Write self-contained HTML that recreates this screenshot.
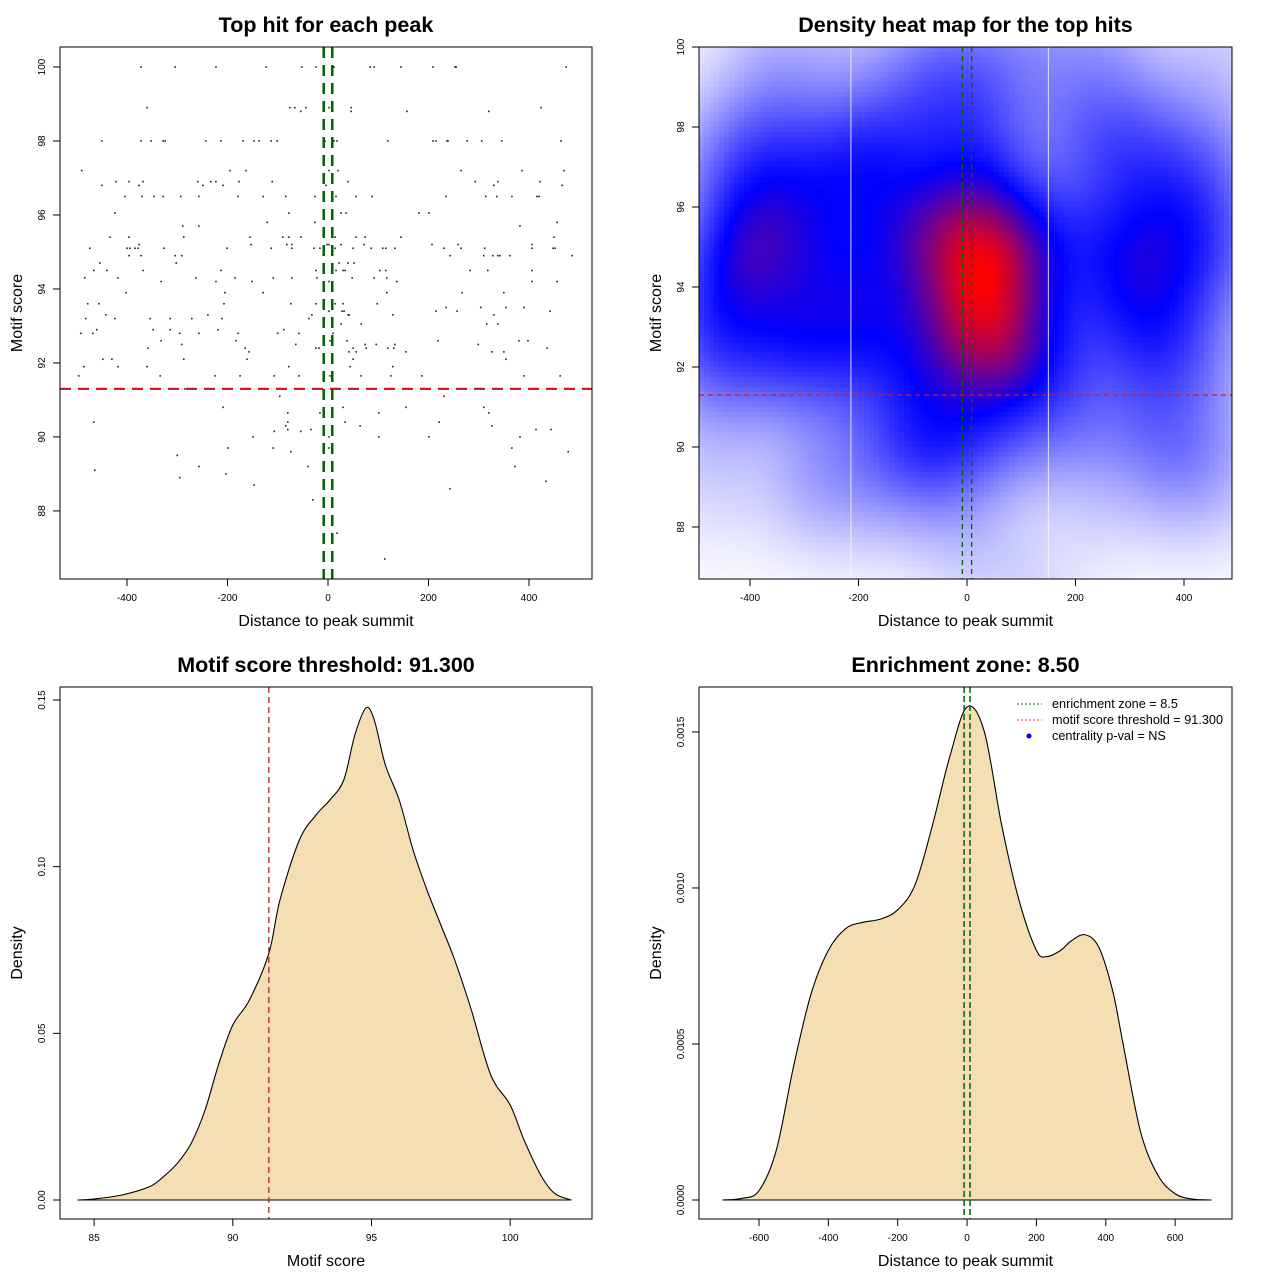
<!DOCTYPE html>
<html><head><meta charset="utf-8">
<style>
html,body{margin:0;padding:0;background:#fff;}
svg{display:block;font-family:"Liberation Sans",Arial,sans-serif;}
</style></head>
<body>
<svg id="chart" width="1280" height="1280" viewBox="0 0 1280 1280" xmlns="http://www.w3.org/2000/svg">
<rect x="0" y="0" width="1280" height="1280" fill="#fff"/>
</svg>
<script>
// ---------- DATA ----------
const scoreRows = [100,98.9,98.8,98.0,97.2,96.9,96.8,96.5,96.05,95.8,95.7,95.4,95.2,95.1,94.9,94.7,94.5,94.3,94.2,93.9,93.6,93.5,93.4,93.3,93.2,93.05,92.9,92.8,92.6,92.5,92.4,92.3,92.1,91.9,91.65,91.3,91.1,90.8,90.65,90.4,90.3,90.2,90.15,90.0,89.7,89.6,89.5,89.2,89.1,89.0,88.9,88.8,88.7,88.6,88.3,87.4,86.7];
const distRows = [
 [-372,-304,-223,-123,-52,-24,12,84,92,145,209,253,255,474],
 [-360,-76,-66,-44,2,46,424],
 [-54,46,157,320],
 [-450,-372,-352,-328,-324,-243,-213,-169,-147,-137,-113,-101,-6,12,18,119,209,215,237,239,277,306,346,464],
 [-490,-195,-163,2,20,265,386,470],
 [-422,-396,-368,-259,-233,-223,-177,-111,40,293,338,422],
 [-450,-376,-249,-209,-4,330,466],
 [-404,-370,-346,-328,-293,-257,-179,-129,-84,-26,16,56,88,235,314,336,366,416,420],
 [-424,-78,26,36,181,201],
 [-121,-26,456],
 [-289,-257,382],
 [-434,-396,-287,-155,-90,-78,-54,14,56,74,145,450],
 [-376,-153,-82,-72,-2,2,26,72,207,259,406],
 [-474,-400,-394,-384,-378,-326,-201,-113,-72,-28,-16,14,50,86,109,115,133,231,265,312,406,448,452],
 [-396,-372,-304,-291,243,310,328,338,342,362,486],
 [-454,-302,22,40,52],
 [-466,-440,-368,-213,-24,16,30,34,103,115,283,318,406],
 [-484,-418,-263,-185,-109,-72,-22,48,92,117],
 [-332,-223,-151,2,137,406,456],
 [-402,-205,-129,117,267,350],
 [-478,-456,-207,-24,-74,14,30,98],
 [235,304,354,390],
 [2,28,32,215,257,442],
 [-442,-239,-32,40,129,42,330],
 [-354,-314,-271,-211,-38,-482,-424],
 [26,66,316,338],
 [-460,-348,-314,-219,-88],
 [-492,-468,-295,-257,-179,-100,-58,10],
 [-332,-183,380,398,4,38,219],
 [-291,-64,96,133,74,299],
 [-358,-165,-24,-18,50,76,119,131,436],
 [-157,42,350,56,155,326],
 [-448,-430,-287,-161,50,354],
 [-486,-418,-360,-78,129,44],
 [-496,-334,-225,-175,-107,-58,4,66,125,187,390,462],
 [-285,48,185,366],
 [-96,231],
 [-209,30,155,310],
 [-80,-16,101,320],
 [-466,-80,34,221],
 [-84,64,326],
 [-80,-34,414,444],
 [-107,-54],
 [-149,201,382,2,101],
 [-199,-109,2,366],
 [-74,478],
 [-300],
 [-257,-40,372],
 [-464],
 [-203],
 [-295],
 [434],
 [-147],
 [243],
 [-30],
 [18],
 [113]
];
const scoreThreshold = 91.3;
const enrichZone = 8.5;

const motifX = [84.4,85,86,87,87.5,88,88.5,89,89.5,90,90.6,91.3,91.7,92.4,93,93.5,94,94.4,94.8,95.1,95.5,96,96.5,97,97.5,98,98.6,99.3,100,100.5,101.1,101.6,102.2];
const motifDens = [0,0.0003,0.0015,0.004,0.007,0.011,0.017,0.027,0.041,0.0525,0.06,0.074,0.09,0.108,0.1155,0.12,0.126,0.1395,0.1476,0.144,0.1305,0.12,0.105,0.093,0.0825,0.072,0.057,0.0375,0.0285,0.018,0.0075,0.002,0];

const distX = [-705,-650,-600,-550,-500,-450,-400,-350,-300,-250,-200,-150,-100,-50,0,50,100,150,200,230,270,300,340,380,420,450,500,550,600,650,705];
const distDens = [0,0.000005,0.00003,0.00016,0.00043,0.00066,0.0008,0.00087,0.00089,0.0009,0.00093,0.00101,0.0012,0.00142,0.00158,0.0015,0.0012,0.00096,0.0008,0.00078,0.0008,0.00083,0.00085,0.00081,0.00067,0.0005,0.00022,0.00008,0.00002,0.000003,0];

const p1XTicks = [-400,-200,0,200,400];
const p1YTicks = [88,90,92,94,96,98,100];
const p2XTicks = [-400,-200,0,200,400];
const p2YTicks = [88,90,92,94,96,98,100];
const p3XTicks = [85,90,95,100];
const p3YTicks = ["0.00","0.05","0.10","0.15"];
const p4XTicks = [-600,-400,-200,0,200,400,600];
const p4YTicks = ["0.0000","0.0005","0.0010","0.0015"];

// ---------- HELPERS ----------
const NS = "http://www.w3.org/2000/svg";
const svg = document.getElementById('chart');
function mk(tag, attrs, parent){
  const e = document.createElementNS(NS, tag);
  for (const k in attrs) e.setAttribute(k, attrs[k]);
  (parent||svg).appendChild(e);
  return e;
}
function panel(L,T,R,B,x0,x1,y0,y1){
  return {L,T,R,B,
    x:v=>L+(v-x0)/(x1-x0)*(R-L),
    y:v=>B-(v-y0)/(y1-y0)*(B-T)};
}
function catmull(pts){
  let d = "M"+pts[0][0]+","+pts[0][1];
  for(let i=0;i<pts.length-1;i++){
    const p0=pts[i-1]||pts[i], p1=pts[i], p2=pts[i+1], p3=pts[i+2]||p2;
    const c1=[p1[0]+(p2[0]-p0[0])/6, p1[1]+(p2[1]-p0[1])/6];
    const c2=[p2[0]-(p3[0]-p1[0])/6, p2[1]-(p3[1]-p1[1])/6];
    d+=" C"+c1[0]+","+c1[1]+" "+c2[0]+","+c2[1]+" "+p2[0]+","+p2[1];
  }
  return d;
}
function axes(P, xt, yt, title, xlab, ylab, prefix){
  const g = mk('g',{});
  
  
  xt.forEach(v=>{
    const X=P.x(+v);
    const t=mk('line',{x1:X,x2:X,y1:P.B,y2:P.B+7,stroke:'#000','stroke-width':1},g);
    
    
    const l=mk('text',{x:X,y:P.B+22,'font-size':10,'text-anchor':'middle',fill:'#000'},g);
    l.textContent=v;
    
    
  });
  yt.forEach(v=>{
    const Y=P.y(+v);
    const t=mk('line',{x1:P.L-7,x2:P.L,y1:Y,y2:Y,stroke:'#000','stroke-width':1},g);
    
    
    const l=mk('text',{x:P.L-15,y:Y,'font-size':10,'text-anchor':'middle',fill:'#000',transform:'rotate(-90 '+(P.L-15)+' '+Y+')'},g);
    l.textContent=v;
    
    
  });
  const box=mk('rect',{x:P.L,y:P.T,width:P.R-P.L,height:P.B-P.T,fill:'none',stroke:'#000','stroke-width':1},g);
  
  
  const ti=mk('text',{x:(P.L+P.R)/2,y:P.T-15,'font-size':21.5,'font-weight':'bold','text-anchor':'middle'},g);
  ti.textContent=title;
  
  
  const xl=mk('text',{x:(P.L+P.R)/2,y:P.B+47,'font-size':16,'text-anchor':'middle'},g);
  xl.textContent=xlab;
  
  
  const yx=P.L-38, yy=(P.T+P.B)/2;
  const yl=mk('text',{x:yx,y:yy,'font-size':16,'text-anchor':'middle',transform:'rotate(-90 '+yx+' '+yy+')'},g);
  yl.textContent=ylab;
  
  
}

const ptX=[], ptY=[];
distRows.forEach((row,i)=>row.forEach(x=>{ptX.push(x);ptY.push(scoreRows[i]);}));

// ---------- PANEL 1 ----------
const P1 = panel(60,47,592,579,-533.3,525.4,86.16,100.54);
const g1 = mk('g',{});


ptX.forEach((x,i)=>{
  const c=mk('rect',{x:P1.x(x)-0.8,y:P1.y(ptY[i])-0.8,width:1.6,height:1.6,fill:'#222'},g1);
  
  
});
let e;
e=mk('line',{x1:P1.L,x2:P1.R,y1:P1.y(scoreThreshold),y2:P1.y(scoreThreshold),stroke:'#D7191C','stroke-width':2.2,'stroke-dasharray':'11,7'});


[-enrichZone,enrichZone].forEach(v=>{
  const l=mk('line',{x1:P1.x(v),x2:P1.x(v),y1:P1.T,y2:P1.B,stroke:'#006400','stroke-width':2.5,'stroke-dasharray':'11,7'});
  
  
});
axes(P1,p1XTicks,p1YTicks,'Top hit for each peak','Distance to peak summit','Motif score','p1');

// ---------- PANEL 2 (heat map) ----------
const P2 = panel(699,47,1232,579,-494,488.5,86.7,100);
const cell=5;
const hx=68, hy=1.1;
const nxC=Math.ceil((P2.R-P2.L)/cell), nyC=Math.ceil((P2.B-P2.T)/cell);
const dens=[]; let dmax=0;
const xr=(P2.R-P2.L), yr=(P2.B-P2.T);
for(let j=0;j<nyC;j++){for(let i=0;i<nxC;i++){
  const px=P2.L+(i+0.5)*cell, py=P2.T+(j+0.5)*cell;
  const xv=-494+(px-P2.L)/xr*(488.5+494);
  const yv=100-(py-P2.T)/yr*(100-86.7);
  let s=0;
  for(let k=0;k<ptX.length;k++){
    const a=(ptX[k]-xv)/hx, b=(ptY[k]-yv)/hy;
    s+=Math.exp(-0.5*(a*a+b*b));
  }
  dens.push(s); if(s>dmax)dmax=s;
}}
const clip=mk('clipPath',{id:'p2clip'});
mk('rect',{x:P2.L,y:P2.T,width:P2.R-P2.L,height:P2.B-P2.T},clip);
const g2=mk('g',{'clip-path':'url(#p2clip)'});


function ramp(t){
  let r,g,b;
  if(t<0.5){const u=t/0.5;r=255*(1-u);g=255*(1-u);b=255;}
  else{const u=(t-0.5)/0.5;r=255*u;g=0;b=255*(1-u);}
  return 'rgb('+Math.round(r)+','+Math.round(g)+','+Math.round(b)+')';
}
const split=0.5;
for(let j=0;j<nyC;j++){for(let i=0;i<nxC;i++){
  const q=dens[j*nxC+i]/dmax;
  const t=Math.min(1, q<split ? Math.pow(q/split,0.7)*0.5 : 0.5+(q-split)/(1-split)*0.5);
  const c=mk('rect',{x:P2.L+i*cell,y:P2.T+j*cell,width:cell+0.6,height:cell+0.6,fill:ramp(t)},g2);
  
  
}}
[-214,150].forEach(v=>{
  const l=mk('line',{x1:P2.x(v),x2:P2.x(v),y1:P2.T,y2:P2.B,stroke:'#fff','stroke-width':1,opacity:0.8});
  
  
});
e=mk('line',{x1:P2.L,x2:P2.R,y1:P2.y(scoreThreshold),y2:P2.y(scoreThreshold),stroke:'#D7191C','stroke-width':1.2,'stroke-dasharray':'5,4'});


[-enrichZone,enrichZone].forEach(v=>{
  const l=mk('line',{x1:P2.x(v),x2:P2.x(v),y1:P2.T,y2:P2.B,stroke:'#006400','stroke-width':1.3,'stroke-dasharray':'5,4'});
  
  
});
axes(P2,p2XTicks,p2YTicks,'Density heat map for the top hits','Distance to peak summit','Motif score','p2');

// ---------- PANEL 3 ----------
const P3 = panel(60,687,592,1219,83.77,102.95,-0.0057,0.1539);
const pts3 = motifX.map((x,i)=>[P3.x(x),P3.y(motifDens[i])]);
e=mk('path',{d:catmull(pts3)+' Z',fill:'#F5DEB3',stroke:'#000','stroke-width':1.1});


e=mk('line',{x1:P3.x(motifX[0]),x2:P3.x(motifX[motifX.length-1]),y1:P3.y(0),y2:P3.y(0),stroke:'#000','stroke-width':1});


e=mk('line',{x1:P3.x(scoreThreshold),x2:P3.x(scoreThreshold),y1:P3.T,y2:P3.B,stroke:'#B22222','stroke-width':1.3,'stroke-dasharray':'6,4'});


axes(P3,p3XTicks,p3YTicks,'Motif score threshold: 91.300','Motif score','Density','p3');

// ---------- PANEL 4 ----------
const P4 = panel(699,687,1232,1219,-773,764,-0.0000609,0.001644);
const pts4 = distX.map((x,i)=>[P4.x(x),P4.y(distDens[i])]);
e=mk('path',{d:catmull(pts4)+' Z',fill:'#F5DEB3',stroke:'#000','stroke-width':1.1});


e=mk('line',{x1:P4.x(distX[0]),x2:P4.x(distX[distX.length-1]),y1:P4.y(0),y2:P4.y(0),stroke:'#000','stroke-width':1});


[-enrichZone,enrichZone].forEach(v=>{
  const l=mk('line',{x1:P4.x(v),x2:P4.x(v),y1:P4.T,y2:P4.B,stroke:'#006400','stroke-width':1.5,'stroke-dasharray':'6,3'});
  
  
});
axes(P4,p4XTicks,p4YTicks,'Enrichment zone: 8.50','Distance to peak summit','Density','p4');
const lg=mk('g',{});


const legItems=[['enrichment zone = 8.5','#006400','line'],['motif score threshold = 91.300','#E04040','line'],['centrality p-val = NS','#0000FF','dot']];
legItems.forEach((it,i)=>{
  const y=704+i*16;
  if(it[2]==='line'){
    const l=mk('line',{x1:1017,x2:1042,y1:y,y2:y,stroke:it[1],'stroke-width':1,'stroke-dasharray':'2,2'},lg);
    
    
  } else {
    const c=mk('circle',{cx:1029,cy:y,r:2.5,fill:it[1]},lg);
    
    
  }
  const t=mk('text',{x:1052,y:y+4,'font-size':12.7},lg);
  t.textContent=it[0];
  
  
});
</script>
</body></html>
